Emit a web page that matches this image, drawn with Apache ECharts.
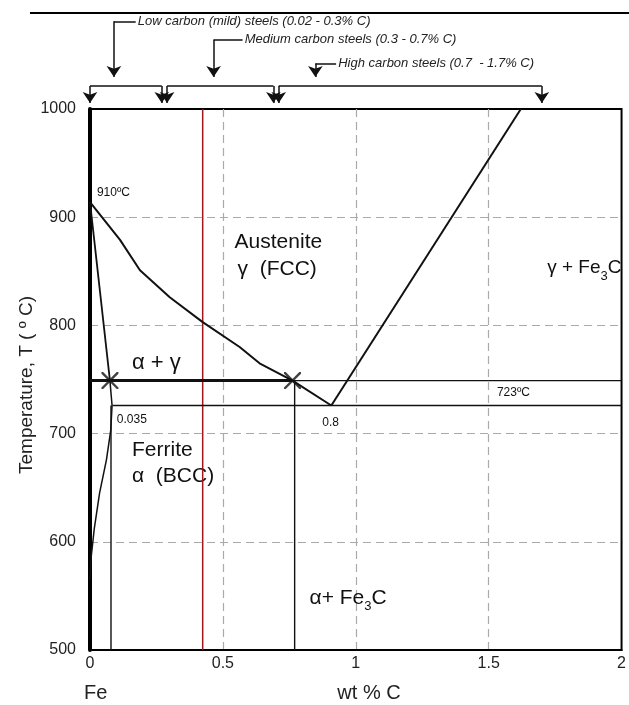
<!DOCTYPE html>
<html><head><meta charset="utf-8">
<script src="https://cdn.jsdelivr.net/npm/echarts@6/dist/echarts.min.js"></script>
<style>html,body{margin:0;padding:0;background:#fff}#c{width:629px;height:705px}</style>
</head><body><div id="c"></div>
<script>
// ---- axes ----
const xTicks = [0, 0.5, 1, 1.5, 2];
const yTicks = [500, 600, 700, 800, 900, 1000];

// ---- phase boundaries (wt% C, °C) as drawn ----
const a3Austenite = [[0,914],[0.113,879],[0.188,851],[0.300,826],[0.424,803],[0.563,780],[0.638,765],[0.762,749],[0.908,726]];
const acmLine = [[0.908,726],[1.621,1000]];
const a3Ferrite = [[0,914],[0.075,749]];
const ferriteSolvus = [[0.075,749],[0.083,726],[0.078,703],[0.062,676],[0.036,645],[0.016,612],[0.004,585],[0,565]];
const eutectoidLine = [[0.085,726],[2,726]];
const upperLineThick = [[0,749],[0.762,749]];
const upperLineThin = [[0.762,749],[2,749]];
const verticalLeft = [[0.079,726],[0.079,500]];
const verticalRight = [[0.77,749],[0.77,500]];
const steelLine = [[0.424,1000],[0.424,500]];
const crossPoints = [[0.075,749],[0.762,749]];

// ---- steel ranges (top annotations) ----
const steelRanges = [[0,0.27],[0.29,0.69],[0.71,1.70]];
const steelNames = ['Low carbon (mild) steels (0.02 - 0.3% C)','Medium carbon steels (0.3 - 0.7% C)','High carbon steels (0.7  - 1.7% C)'];
const steelArrowX = [0.09, 0.465, 0.848];
const steelTextX = [0.18, 0.582, 0.934];
const steelTextT = [1081, 1064, 1042];
const bracketT = 1021.3, bracketTipT = 1005.5, hookTipT = 1029.6;

// ---- in-plot labels ----
const labels = [
  {x:0.026, t:923, text:'910ºC', size:12},
  {x:0.544, t:877, text:'Austenite', size:21},
  {x:0.555, t:852, text:'γ  (FCC)', size:21},
  {x:1.72, t:853, text:'γ + Fe{s|3}C', size:19},
  {x:0.158, t:765, text:'α + γ', size:22},
  {x:1.531, t:737.5, text:'723ºC', size:12},
  {x:0.101, t:712.6, text:'0.035', size:12},
  {x:0.874, t:710, text:'0.8', size:12},
  {x:0.158, t:685, text:'Ferrite', size:21},
  {x:0.158, t:661, text:'α  (BCC)', size:21},
  {x:0.826, t:548, text:'α+ Fe{s|3}C', size:21}
];

const FONT = 'Liberation Sans, Arial, Helvetica, sans-serif';
const chart = echarts.init(document.getElementById('c'));

function ln(data, w, color) {
  return {type:'line', data:data, symbol:'none', clip:false, silent:true,
    lineStyle:{color:color||'#111', width:w}, z:3};
}

const plainSegs = [], arrowSegs = [];
steelRanges.forEach(r => {
  plainSegs.push({coords:[[r[0],bracketT],[r[1],bracketT]]});
  arrowSegs.push({coords:[[r[0],bracketT],[r[0],bracketTipT]]});
  arrowSegs.push({coords:[[r[1],bracketT],[r[1],bracketTipT]]});
});
steelArrowX.forEach((x,i) => {
  plainSegs.push({coords:[[steelTextX[i]-0.008,steelTextT[i]],[x,steelTextT[i]]]});
  arrowSegs.push({coords:[[x,steelTextT[i]],[x,hookTipT]]});
});

chart.setOption({
  animation:false,
  grid:{left:90, right:6, top:109, bottom:55, show:true, borderColor:'#000', borderWidth:2, backgroundColor:'transparent'},
  xAxis:{type:'value', min:xTicks[0], max:xTicks[xTicks.length-1], interval:0.5,
    axisLine:{show:true, lineStyle:{color:'#000', width:2}},
    axisTick:{show:false},
    axisLabel:{color:'#222', fontSize:16, fontFamily:FONT, margin:6, formatter:v => String(v)},
    splitLine:{show:true, showMinLine:false, showMaxLine:false, lineStyle:{color:'#aaa', width:1.2, type:[8,5]}}},
  yAxis:{type:'value', min:yTicks[0], max:yTicks[yTicks.length-1], interval:100,
    axisLine:{show:true, lineStyle:{color:'#000', width:4}},
    axisTick:{show:false},
    axisLabel:{color:'#222', fontSize:16, fontFamily:FONT, margin:14, formatter:v => String(v)},
    splitLine:{show:true, showMinLine:false, showMaxLine:false, lineStyle:{color:'#aaa', width:1.2, type:[8,5]}}},
  series:[
    ln(steelLine, 1.5, '#a0161c'),
    ln(a3Austenite, 2),
    ln(acmLine, 2),
    ln(a3Ferrite, 1.8),
    ln(ferriteSolvus, 1.5),
    ln(eutectoidLine, 1.4),
    ln(upperLineThick, 3),
    ln(upperLineThin, 1.4),
    ln(verticalLeft, 1.4),
    ln(verticalRight, 1.4),
    {type:'scatter', data:crossPoints, symbol:'path://M0,0 L1,0 L10,9 L10,10 L9,10 L0,1 Z M10,0 L10,1 L1,10 L0,10 L0,9 L9,0 Z',
     symbolSize:17, itemStyle:{color:'#111'}, silent:true, z:5},
    {type:'lines', coordinateSystem:'cartesian2d', clip:false, silent:true,
     data:plainSegs, symbol:['none','none'],
     lineStyle:{color:'#111', width:1.5, opacity:1}, z:4},
    {type:'lines', coordinateSystem:'cartesian2d', clip:false, silent:true,
     data:arrowSegs, symbol:['none','arrow'], symbolSize:[7,11],
     lineStyle:{color:'#111', width:1.5, opacity:1}, z:4}
  ]
});

const g = [];
g.push({type:'line', shape:{x1:30,y1:13,x2:629,y2:13}, style:{stroke:'#000', lineWidth:2}});
steelNames.forEach((s,i) => {
  const p = chart.convertToPixel({gridIndex:0}, [steelTextX[i], steelTextT[i]]);
  g.push({type:'text', x:p[0], y:p[1], style:{text:s, font:'italic 13px '+FONT, fill:'#222', align:'left', verticalAlign:'middle'}});
});
labels.forEach(l => {
  const p = chart.convertToPixel({gridIndex:0}, [l.x, l.t]);
  g.push({type:'text', x:p[0], y:p[1], style:{text:l.text, font:l.size+'px '+FONT, fill:'#111', align:'left', verticalAlign:'middle',
    lineHeight:30,
    rich:{s:{fontSize:13, fontFamily:FONT, fill:'#111', lineHeight:13, verticalAlign:'bottom'}}}});
});
g.push({type:'text', x:27, y:385, rotation:Math.PI/2, style:{text:'Temperature, T ( º C)', font:'19px '+FONT, fill:'#222', align:'center', verticalAlign:'middle'}});
g.push({type:'text', x:84, y:693, style:{text:'Fe', font:'20px '+FONT, fill:'#222', align:'left', verticalAlign:'middle'}});
g.push({type:'text', x:369, y:693, style:{text:'wt % C', font:'20px '+FONT, fill:'#222', align:'center', verticalAlign:'middle'}});
chart.setOption({graphic:g});
</script>
</body></html>
